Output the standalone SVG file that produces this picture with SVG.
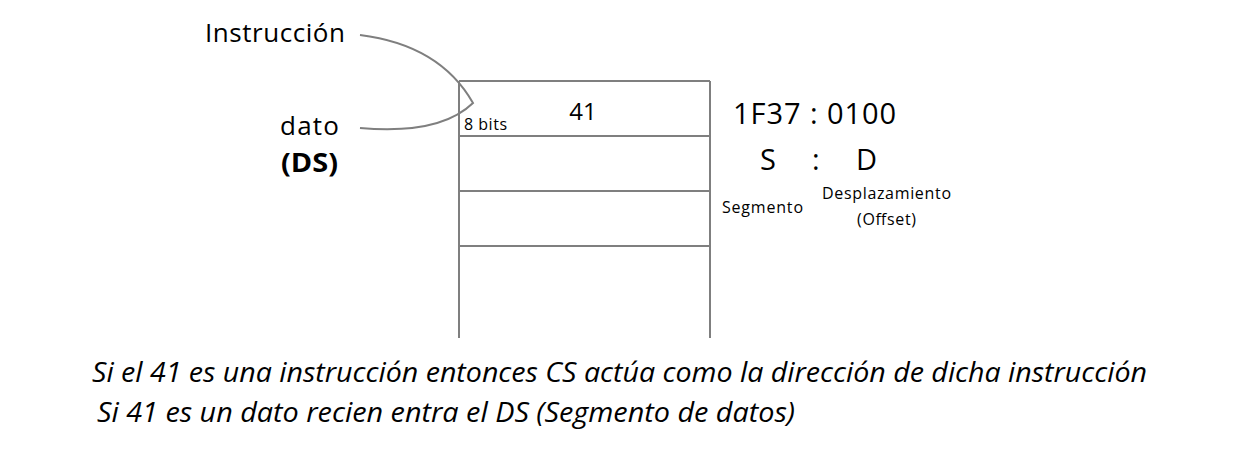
<svg xmlns="http://www.w3.org/2000/svg" width="1246" height="454" viewBox="0 0 1246 454">
<style>
text{font-family:"Open Sans","Noto Sans","Liberation Sans",sans-serif;fill:#000}
.ln{stroke:#7f7f7f;stroke-width:2;fill:none}
.it{font-style:italic;font-size:26.5px}
</style>
<rect width="1246" height="454" fill="#fff"/>
<g id="memory">
<line class="ln" x1="459" y1="81" x2="459" y2="338"/>
<line class="ln" x1="710" y1="81" x2="710" y2="338"/>
<line class="ln" x1="459" y1="81" x2="710" y2="81"/>
<line class="ln" x1="459" y1="136" x2="710" y2="136"/>
<line class="ln" x1="459" y1="191" x2="710" y2="191"/>
<line class="ln" x1="459" y1="246" x2="710" y2="246"/>
<text x="583" y="120" font-size="24" text-anchor="middle">41</text>
<text x="464" y="130" font-size="16" textLength="43">8 bits</text>
</g>
<g id="connectors">
<path class="ln" d="M360,35 Q440,45 473,103 Q440,135 360,128"/>
</g>
<g id="labels">
<text x="205" y="42" font-size="26" textLength="140">Instrucción</text>
<text x="280" y="135" font-size="26" textLength="59">dato</text>
<text x="281" y="172" font-size="26" font-weight="bold" textLength="57" lengthAdjust="spacingAndGlyphs">(DS)</text>
</g>
<g id="address">
<text x="733" y="124" font-size="29" textLength="163">1F37 : 0100</text>
<text x="760" y="170" font-size="29">S</text>
<text x="812" y="170" font-size="29">:</text>
<text x="856" y="170" font-size="29">D</text>
<text x="722" y="213" font-size="16" textLength="81">Segmento</text>
<text x="822" y="199" font-size="16" textLength="129">Desplazamiento</text>
<text x="857" y="225" font-size="16" textLength="59">(Offset)</text>
</g>
<g id="notes">
<text class="it" x="92" y="382" textLength="1055" lengthAdjust="spacingAndGlyphs">Si el 41 es una instrucción entonces CS actúa como la dirección de dicha instrucción</text>
<text class="it" x="97" y="422" textLength="698" lengthAdjust="spacingAndGlyphs">Si 41 es un dato recien entra el DS (Segmento de datos)</text>
</g>
</svg>
